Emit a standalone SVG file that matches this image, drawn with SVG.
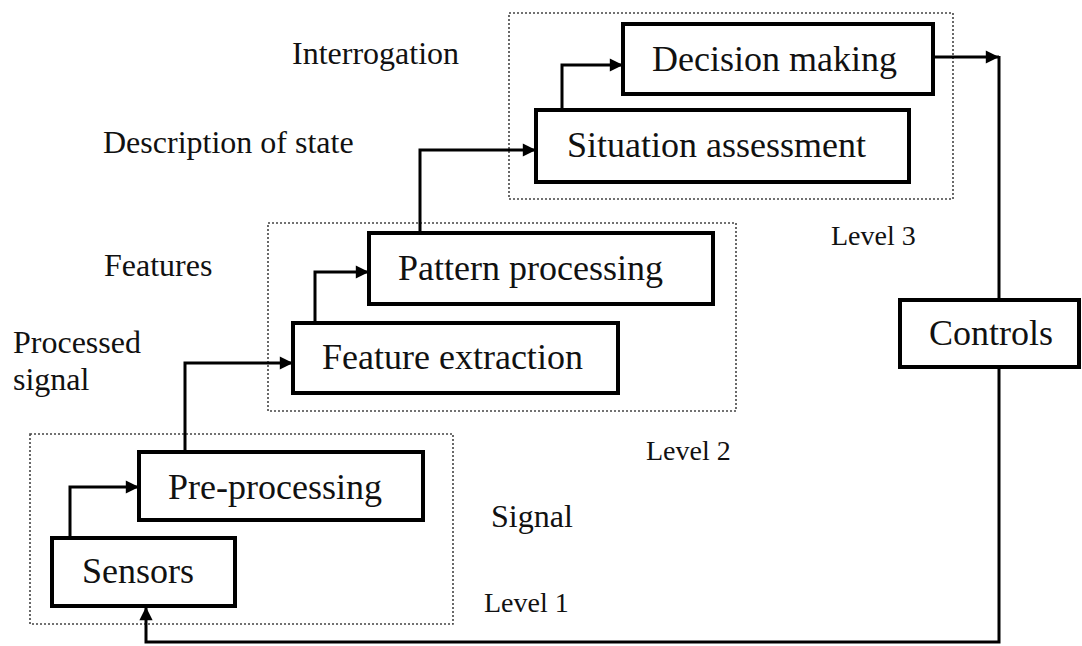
<svg xmlns="http://www.w3.org/2000/svg" width="1082" height="646" viewBox="0 0 1082 646">
  <style>
    .box { fill: #ffffff; stroke: #000000; stroke-width: 4; }
    .level { fill: none; stroke: #444444; stroke-width: 1.6; stroke-dasharray: 2 2; }
    .conn { fill: none; stroke: #000000; stroke-width: 3; }
    .t { font-family: "Liberation Serif", "Times New Roman", serif; fill: #111111; }
    .bt { font-size: 36px; }
    .lt { font-size: 32px; }
    .lv { font-size: 28px; }
  </style>
  <defs>
    <marker id="arrow" viewBox="0 0 10 10" refX="10" refY="5" markerWidth="5" markerHeight="4.4" markerUnits="strokeWidth" orient="auto">
      <path d="M0 0 L10 5 L0 10 Z" fill="#000000"/>
    </marker>
  </defs>
  <rect width="1082" height="646" fill="#ffffff"/>

  <!-- processing levels -->
  <g id="level1">
    <rect class="level" x="30" y="434" width="423" height="190"/>
    <text class="t lv" x="484" y="612">Level 1</text>
  </g>
  <g id="level2">
    <rect class="level" x="268" y="223" width="468" height="188"/>
    <text class="t lv" x="646" y="460">Level 2</text>
  </g>
  <g id="level3">
    <rect class="level" x="509" y="13" width="444" height="186"/>
    <text class="t lv" x="831" y="245">Level 3</text>
  </g>

  <!-- side labels -->
  <g id="labels">
    <text class="t lt" x="292" y="64">Interrogation</text>
    <text class="t lt" x="103" y="153">Description of state</text>
    <text class="t lt" x="104" y="276">Features</text>
    <text class="t lt" x="13" y="353">Processed</text>
    <text class="t lt" x="13" y="390">signal</text>
    <text class="t lt" x="491" y="527">Signal</text>
  </g>

  <!-- connectors -->
  <g id="connectors">
    <path class="conn" d="M70 538 V487 H139" marker-end="url(#arrow)"/>
    <path class="conn" d="M185 452 V363 H293" marker-end="url(#arrow)"/>
    <path class="conn" d="M315 323 V272 H369" marker-end="url(#arrow)"/>
    <path class="conn" d="M420 233 V150 H536" marker-end="url(#arrow)"/>
    <path class="conn" d="M562 110 V65 H623" marker-end="url(#arrow)"/>
    <path class="conn" d="M933 57 H999" marker-end="url(#arrow)"/>
    <path class="conn" d="M999 56 V300"/>
    <path class="conn" d="M999 367 V642 H146 V607" marker-end="url(#arrow)"/>
  </g>

  <!-- nodes -->
  <g id="sensors">
    <rect class="box" x="52" y="538" width="183" height="68"/>
    <text class="t bt" x="82" y="583">Sensors</text>
  </g>
  <g id="pre-processing">
    <rect class="box" x="139" y="452" width="284" height="68"/>
    <text class="t bt" x="168" y="499">Pre-processing</text>
  </g>
  <g id="feature-extraction">
    <rect class="box" x="293" y="323" width="325" height="70"/>
    <text class="t bt" x="322" y="369">Feature extraction</text>
  </g>
  <g id="pattern-processing">
    <rect class="box" x="369" y="233" width="344" height="71"/>
    <text class="t bt" x="398" y="280">Pattern processing</text>
  </g>
  <g id="situation-assessment">
    <rect class="box" x="536" y="110" width="373" height="72"/>
    <text class="t bt" x="567" y="157">Situation assessment</text>
  </g>
  <g id="decision-making">
    <rect class="box" x="623" y="24" width="310" height="70"/>
    <text class="t bt" x="652" y="71">Decision making</text>
  </g>
  <g id="controls">
    <rect class="box" x="900" y="300" width="179" height="67"/>
    <text class="t bt" x="929" y="345">Controls</text>
  </g>
</svg>
